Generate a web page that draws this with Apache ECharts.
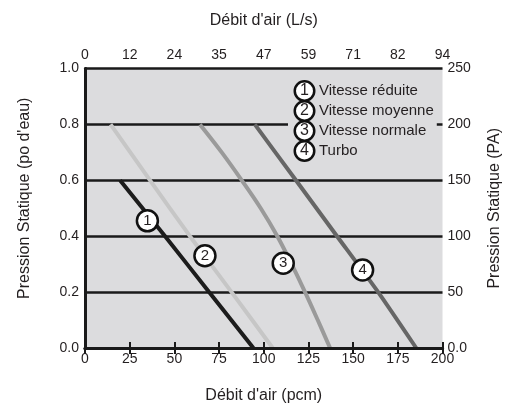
<!DOCTYPE html>
<html>
<head>
<meta charset="utf-8">
<script src="https://cdn.jsdelivr.net/npm/echarts@6/dist/echarts.min.js"></script>
<style>html,body{margin:0;padding:0;background:#fff}#c{width:513px;height:409px}</style>
</head>
<body>
<div id="c"></div>
<script>
// ---- data ----
var seriesNames = ['Vitesse réduite', 'Vitesse moyenne', 'Vitesse normale', 'Turbo'];
var seriesNumbers = ['1', '2', '3', '4'];
// flow (pcm) vs static pressure (po d'eau)
var flow1 = [19.6, 44.8, 69.4, 94.2];
var pres1 = [0.6, 0.4, 0.2, 0.0];
var flow2 = [14.3, 36.4, 58.7, 82.0, 105.0];
var pres2 = [0.8, 0.6, 0.4, 0.2, 0.0];
var flow3 = [64.3, 76.5, 87.7, 98.3, 107.6, 115.6, 123.1, 130.2, 137.1];
var pres3 = [0.8, 0.7, 0.6, 0.5, 0.4, 0.3, 0.2, 0.1, 0.0];
var flow4 = [95.0, 118.0, 141.0, 164.0, 185.3];
var pres4 = [0.8, 0.6, 0.4, 0.2, 0.0];
// in-plot number badges
var badgeFlow = [34.9, 67.1, 110.9, 155.3];
var badgePres = [0.455, 0.33, 0.303, 0.279];
// tick labels
var bottomLabels = ['0', '25', '50', '75', '100', '125', '150', '175', '200'];
var topLabels = ['0', '12', '24', '35', '47', '59', '71', '82', '94'];
var leftLabels = ['0.0', '0.2', '0.4', '0.6', '0.8', '1.0'];
var rightLabels = ['0.0', '50', '100', '150', '200', '250'];

var seriesColors = ['#1c1c1c', '#c6c6c6', '#9a9a9a', '#666666'];
var TXT = '#231f20';
var FONT = 'Liberation Sans';

function pairs(xs, ys) { return xs.map(function (x, i) { return [x, ys[i]]; }); }
var flows = [flow1, flow2, flow3, flow4];
var press = [pres1, pres2, pres3, pres4];

var series = [];
for (var i = 0; i < 4; i++) {
  series.push({
    name: seriesNames[i], type: 'line', xAxisIndex: 0, yAxisIndex: 0,
    data: pairs(flows[i], press[i]), showSymbol: false, symbol: 'none',
    smooth: i === 2 ? 0.4 : 0.2, z: 3,
    lineStyle: { color: seriesColors[i], width: 4, cap: 'butt' },
    itemStyle: { color: seriesColors[i] },
    silent: true, animation: false
  });
}
series.push({
  name: 'badges', type: 'scatter', xAxisIndex: 0, yAxisIndex: 0,
  data: badgeFlow.map(function (x, i) { return { value: [x, badgePres[i]], label: { formatter: seriesNumbers[i] } }; }),
  symbol: 'circle', symbolSize: 21, z: 5,
  itemStyle: { color: '#fff', borderColor: '#111', borderWidth: 2.5, opacity: 1 },
  label: { show: true, position: 'inside', color: TXT, fontSize: 15, fontFamily: FONT },
  emphasis: { disabled: true },
  animation: false, silent: true
});

var chart = echarts.init(document.getElementById('c'), null, { renderer: 'canvas' });
chart.setOption({
  backgroundColor: '#fff',
  animation: false,
  grid: { left: 85, right: 70.5, top: 68.5, bottom: 59.5, show: true, backgroundColor: '#dcdcde', borderWidth: 0 },
  legend: {
    show: true, orient: 'vertical', left: 288, top: 80,
    data: seriesNames, icon: 'none', itemWidth: 0, itemHeight: 14, itemGap: -2,
    padding: [0, 3, 2, 3], backgroundColor: '#dcdcde', selectedMode: false,
    formatter: function (name) {
      var k = seriesNames.indexOf(name);
      return '{c|' + seriesNumbers[k] + '}{t|' + name + '}';
    },
    textStyle: {
      color: TXT, fontFamily: FONT, fontSize: 15,
      rich: {
        c: { width: 17, height: 17, lineHeight: 17, align: 'center', borderRadius: 11, borderWidth: 2.5, borderColor: '#111', backgroundColor: '#fff', color: TXT, fontSize: 16, fontFamily: FONT },
        t: { padding: [0, 0, 0, 6], color: TXT, fontSize: 15, fontFamily: FONT, lineHeight: 20.3 }
      }
    },
    z: 3
  },
  xAxis: [
    {
      type: 'value', position: 'bottom', min: 0, max: 200, interval: 25,
      name: "Débit d'air (pcm)", nameLocation: 'middle', nameGap: 40,
      nameTextStyle: { color: TXT, fontSize: 16, fontFamily: FONT },
      axisLine: { show: true, lineStyle: { color: '#1a1a1a', width: 3 } },
      axisTick: { show: true, inside: true, length: 6, lineStyle: { color: '#1a1a1a', width: 2 } },
      axisLabel: { color: TXT, fontSize: 14, fontFamily: FONT, margin: 4,
        formatter: function (v) { return bottomLabels[Math.round(v / 25)]; } },
      splitLine: { show: false }, z: 4
    },
    {
      type: 'value', position: 'top', min: 0, max: 200, interval: 25,
      name: "Débit d'air (L/s)", nameLocation: 'middle', nameGap: 40,
      nameTextStyle: { color: TXT, fontSize: 16, fontFamily: FONT },
      axisLine: { show: true, lineStyle: { color: '#1a1a1a', width: 3 } },
      axisTick: { show: true, inside: true, length: 6, lineStyle: { color: '#1a1a1a', width: 2 } },
      axisLabel: { color: TXT, fontSize: 14, fontFamily: FONT, margin: 6,
        formatter: function (v) { return topLabels[Math.round(v / 25)]; } },
      splitLine: { show: false }, z: 4
    }
  ],
  yAxis: [
    {
      type: 'value', position: 'left', min: 0, max: 1, interval: 0.2,
      name: "Pression Statique (po d'eau)", nameLocation: 'middle', nameGap: 52,
      nameTextStyle: { color: TXT, fontSize: 16, fontFamily: FONT, padding: [0, 0, 0, 20] },
      axisLine: { show: true, lineStyle: { color: '#1a1a1a', width: 3 } },
      axisTick: { show: false },
      axisLabel: { color: TXT, fontSize: 14, fontFamily: FONT, margin: 6,
        formatter: function (v) { return leftLabels[Math.round(v / 0.2)]; } },
      splitLine: { show: true, lineStyle: { color: '#1a1a1a', width: 2.5 } }, z: 2
    },
    {
      type: 'value', position: 'right', min: 0, max: 250, interval: 50,
      name: 'Pression Statique (PA)', nameLocation: 'middle', nameGap: 44,
      nameTextStyle: { color: TXT, fontSize: 16, fontFamily: FONT },
      axisLine: { show: true, lineStyle: { color: '#1a1a1a', width: 3 } },
      axisTick: { show: false },
      axisLabel: { color: TXT, fontSize: 14, fontFamily: FONT, margin: 5,
        formatter: function (v) { return rightLabels[Math.round(v / 50)]; } },
      splitLine: { show: false }, z: 4
    }
  ],
  series: series
});
</script>
</body>
</html>
